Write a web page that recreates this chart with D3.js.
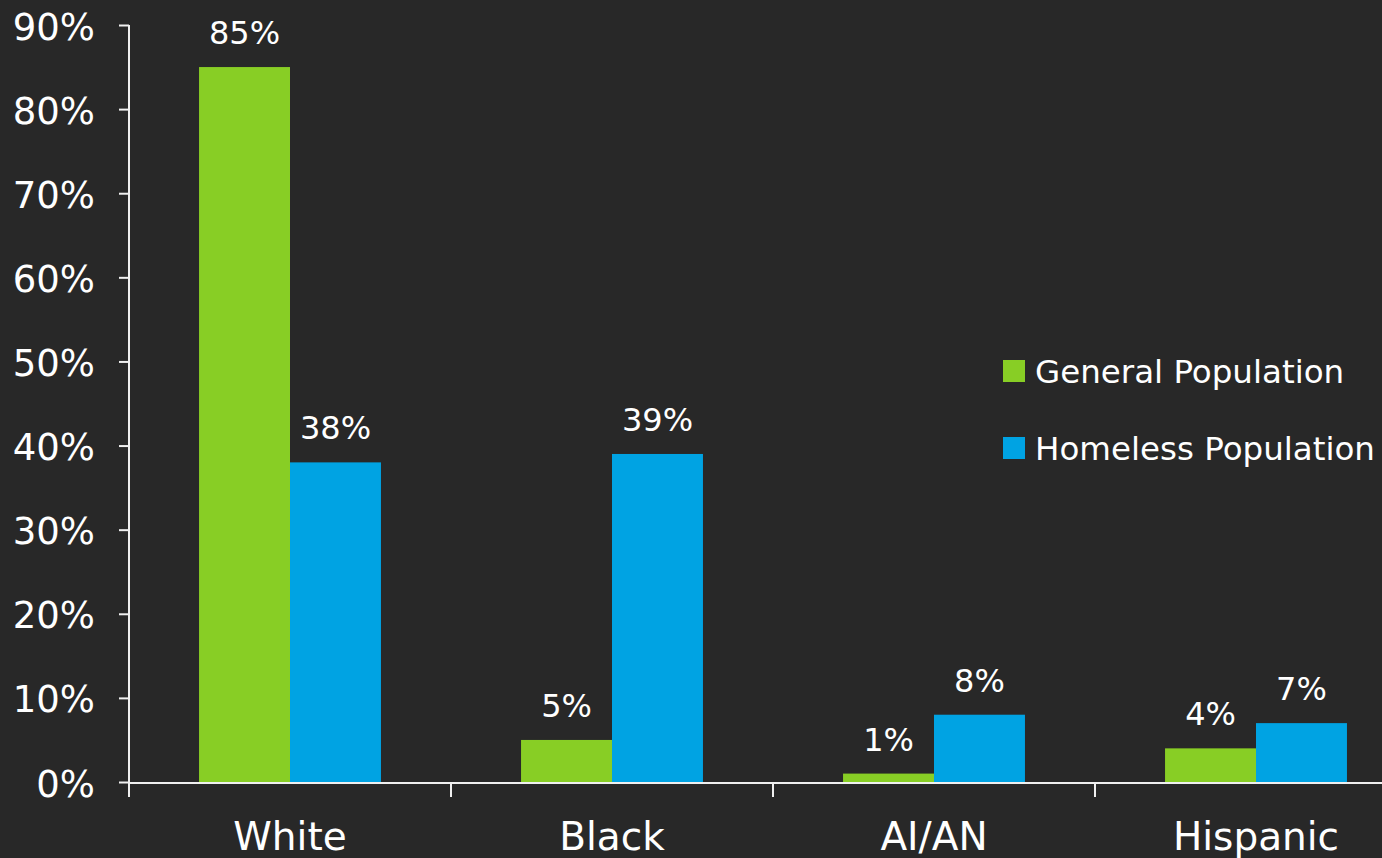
<!DOCTYPE html>
<html>
<head>
<meta charset="utf-8">
<script src="https://cdn.jsdelivr.net/npm/d3@7/dist/d3.min.js"></script>
<style>
  html, body { margin: 0; padding: 0; background: #282828; overflow: hidden; }
  svg { display: block; }
  text { font-family: "Century Gothic", "DejaVu Sans", sans-serif; fill: #ffffff; }
</style>
</head>
<body>
<svg id="chart" width="1382" height="858"></svg>
<script>
// Share of each group in the general vs. homeless population
const categories = ["White", "Black", "AI/AN", "Hispanic"];
const seriesNames = ["General Population", "Homeless Population"];
const generalPop = [85, 5, 1, 4];
const homelessPop = [38, 39, 8, 7];
const yTicks = [0, 10, 20, 30, 40, 50, 60, 70, 80, 90];
const seriesColors = ["#88CE25", "#00A3E3"];

const values = [generalPop, homelessPop];
const W = 1382, H = 858;
const svg = d3.select("#chart");

const margin = { left: 129, right: -35, top: 25, bottom: 76 };
const x0 = d3.scaleBand()
  .domain(categories)
  .range([margin.left, W - margin.right])
  .paddingInner(0).paddingOuter(0);
const x1 = d3.scaleBand()
  .domain(seriesNames)
  .range([0, x0.bandwidth()])
  .paddingInner(0).paddingOuter(0.77);
const y = d3.scaleLinear().domain([0, 90]).range([H - margin.bottom, margin.top]);

// Bars
const groups = svg.append("g").selectAll("g")
  .data(categories)
  .join("g")
  .attr("transform", c => `translate(${x0(c)},0)`);

groups.selectAll("rect")
  .data((c, i) => seriesNames.map((s, j) => ({ s, j, v: values[j][i] })))
  .join("rect")
  .attr("x", d => x1(d.s))
  .attr("y", d => y(d.v))
  .attr("width", x1.bandwidth())
  .attr("height", d => y(0) - y(d.v))
  .attr("fill", d => seriesColors[d.j]);

// Value labels
groups.selectAll("text.val")
  .data((c, i) => seriesNames.map((s, j) => ({ s, j, v: values[j][i] })))
  .join("text")
  .attr("class", "val")
  .attr("x", d => x1(d.s) + x1.bandwidth() / 2)
  .attr("y", d => y(d.v) - 23)
  .attr("text-anchor", "middle")
  .style("font-size", "32px")
  .text(d => d.v + "%");

// Y axis
const yAxis = svg.append("g")
  .attr("transform", `translate(${margin.left},0)`)
  .call(d3.axisLeft(y).tickValues(yTicks).tickSize(10).tickPadding(24)
    .tickFormat(d => d + "%"));
yAxis.select(".domain").attr("stroke", "#f0f0f0").attr("stroke-width", 2)
  .attr("d", `M0,${y(90)}V${y(0)}`);
yAxis.selectAll(".tick line").attr("stroke", "#f0f0f0").attr("stroke-width", 2);
yAxis.selectAll(".tick text")
  .attr("fill", "#ffffff")
  .style("font-family", '"Century Gothic", "DejaVu Sans", sans-serif')
  .style("font-size", "37px")
  .attr("dy", "0.38em");

// X axis line and category boundary ticks
const xAxis = svg.append("g");
xAxis.append("line")
  .attr("x1", margin.left).attr("x2", W - margin.right)
  .attr("y1", y(0) + 1).attr("y2", y(0) + 1)
  .attr("stroke", "#f0f0f0").attr("stroke-width", 2);
xAxis.selectAll("line.tick")
  .data(categories)
  .join("line")
  .attr("class", "tick")
  .attr("x1", c => x0(c)).attr("x2", c => x0(c))
  .attr("y1", y(0)).attr("y2", y(0) + 15)
  .attr("stroke", "#f0f0f0").attr("stroke-width", 2);
xAxis.selectAll("text")
  .data(categories)
  .join("text")
  .attr("x", c => x0(c) + x0.bandwidth() / 2)
  .attr("y", H - 8)
  .attr("text-anchor", "middle")
  .style("font-size", "39px")
  .text(c => c);

// Legend
const legend = svg.append("g").attr("transform", "translate(1003,360)");
const items = legend.selectAll("g")
  .data(seriesNames)
  .join("g")
  .attr("transform", (d, i) => `translate(0,${i * 77})`);
items.append("rect")
  .attr("width", 22).attr("height", 22)
  .attr("fill", (d, i) => seriesColors[i]);
items.append("text")
  .attr("x", 32).attr("y", 23)
  .style("font-size", "32.5px")
  .text(d => d);
</script>
</body>
</html>
